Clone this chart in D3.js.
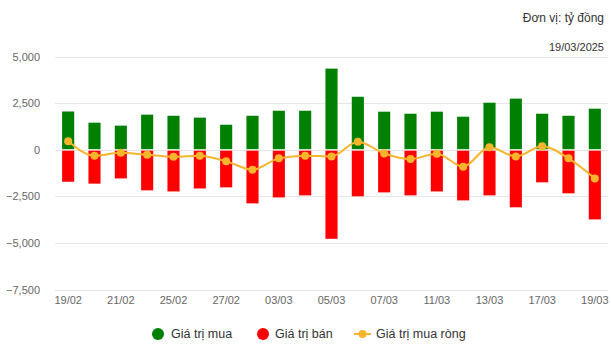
<!DOCTYPE html>
<html><head><meta charset="utf-8">
<script src="https://cdn.jsdelivr.net/npm/d3@7/dist/d3.min.js"></script>
<style>body{margin:0;background:#fff;font-family:"Liberation Sans",Arial,sans-serif;}</style>
</head><body><svg id="c" width="611" height="357"></svg>
<script>
const dates = ["19/02","20/02","21/02","24/02","25/02","26/02","27/02","28/02","03/03","04/03","05/03","06/03","07/03","10/03","11/03","12/03","13/03","14/03","17/03","18/03","19/03"];
const buyValues = [2050,1450,1290,1880,1820,1720,1340,1820,2090,2090,4350,2840,2040,1930,2040,1770,2520,2740,1930,1820,2200];
const sellValues = [-1720,-1820,-1540,-2180,-2240,-2080,-2020,-2880,-2560,-2450,-4780,-2500,-2290,-2450,-2240,-2720,-2450,-3090,-1750,-2340,-3740];
const netValues = [450,-320,-160,-270,-375,-320,-625,-1070,-465,-320,-360,430,-200,-500,-215,-910,125,-360,180,-465,-1540];
const yTicks = [5000,2500,0,-2500,-5000,-7500];
const xTickLabels = ["19/02","21/02","25/02","27/02","03/03","05/03","07/03","11/03","13/03","17/03","19/03"];

const svg = d3.select("#c");
const L = 55, R = 608, T = 56.5, B = 289.5;
const x = d3.scaleBand().domain(dates).range([L, R]).paddingInner(0.54).paddingOuter(0.27);
const y = d3.scaleLinear().domain([-7500, 5000]).range([B, T]);
const fmt = d3.format(",");

// grid
svg.append("g").selectAll("line").data(yTicks).join("line")
  .attr("x1", L).attr("x2", R).attr("y1", d => Math.round(y(d)) + 0.5).attr("y2", d => Math.round(y(d)) + 0.5)
  .attr("stroke", "#e6e6e6").attr("stroke-width", 1);

// y labels
const yAxis = d3.axisLeft(y).tickValues(yTicks).tickFormat(fmt).tickSize(0).tickPadding(0);
const ga = svg.append("g").attr("transform", `translate(${40},0)`).call(yAxis);
ga.select(".domain").remove();
ga.selectAll("text").attr("fill", "#666").style("font-size", "11px").style("font-family", "Liberation Sans, Arial, sans-serif");

// x labels
const xAxis = d3.axisBottom(x).tickValues(xTickLabels).tickSize(0).tickPadding(0);
const gx = svg.append("g").attr("transform", `translate(0,${296})`).call(xAxis);
gx.select(".domain").remove();
gx.selectAll("text").attr("fill", "#666").style("font-size", "11px").style("font-family", "Liberation Sans, Arial, sans-serif");

// bars
svg.append("g").selectAll("rect").data(buyValues).join("rect")
  .attr("x", (d, i) => x(dates[i])).attr("width", x.bandwidth())
  .attr("y", d => y(d)).attr("height", d => y(0) - 0.5 - y(d))
  .attr("fill", "#008000");
svg.append("g").selectAll("rect").data(sellValues).join("rect")
  .attr("x", (d, i) => x(dates[i])).attr("width", x.bandwidth())
  .attr("y", d => y(0) + 1).attr("height", d => y(d) - y(0) - 1)
  .attr("fill", "#ff0000");

// net line
const cx = (i) => x(dates[i]) + x.bandwidth() / 2;
const line = d3.line().x((d, i) => cx(i)).y(d => y(d)).curve(d3.curveMonotoneX);
svg.append("path").datum(netValues).attr("d", line).attr("fill", "none")
  .attr("stroke", "#f7b52c").attr("stroke-width", 2);
svg.append("g").selectAll("circle").data(netValues).join("circle")
  .attr("cx", (d, i) => cx(i)).attr("cy", d => y(d)).attr("r", 4).attr("fill", "#f7b52c");

// header texts
svg.append("text").attr("x", 604).attr("y", 22).attr("text-anchor", "end")
  .attr("fill", "#333").style("font-size", "12px").text("Đơn vị: tỷ đồng");
svg.append("text").attr("x", 604).attr("y", 51).attr("text-anchor", "end")
  .attr("fill", "#333").style("font-size", "11px").text("19/03/2025");

// legend
const lg = svg.append("g").style("font-size", "12.5px").attr("fill", "#333");
lg.append("circle").attr("cx", 158).attr("cy", 334).attr("r", 6).attr("fill", "#008000");
lg.append("text").attr("x", 171).attr("y", 338).attr("fill", "#333").text("Giá trị mua");
lg.append("circle").attr("cx", 263).attr("cy", 334).attr("r", 6).attr("fill", "#ff0000");
lg.append("text").attr("x", 275).attr("y", 338).attr("fill", "#333").text("Giá trị bán");
lg.append("line").attr("x1", 354).attr("x2", 371).attr("y1", 334).attr("y2", 334).attr("stroke", "#f7b52c").attr("stroke-width", 2);
lg.append("circle").attr("cx", 362.5).attr("cy", 334).attr("r", 4).attr("fill", "#f7b52c");
lg.append("text").attr("x", 376).attr("y", 338).attr("fill", "#333").text("Giá trị mua ròng");
</script></body></html>
